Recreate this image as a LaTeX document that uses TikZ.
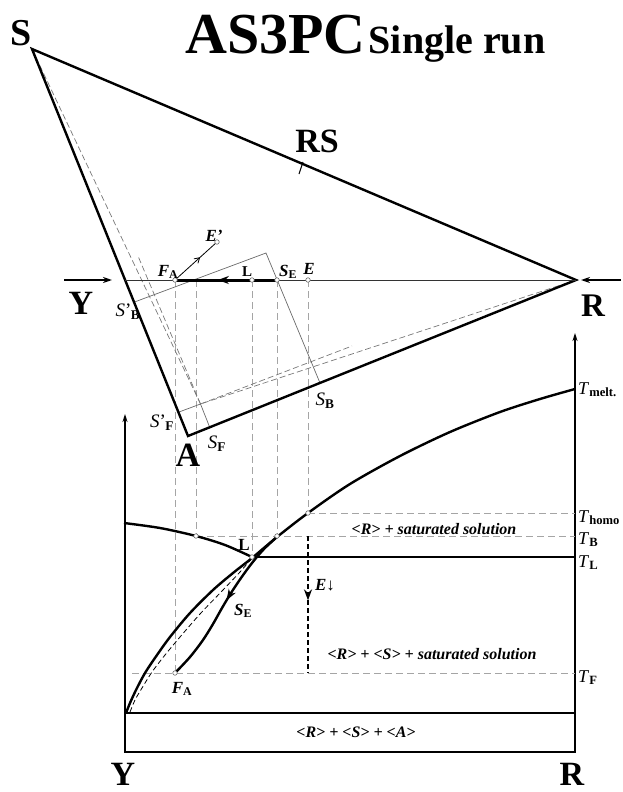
\documentclass[tikz,border=0pt]{standalone}
\usepackage{fontspec}
\setmainfont{Liberation Serif}
\usetikzlibrary{arrows.meta,decorations.markings}
\definecolor{guidegray}{RGB}{165,165,165}
\definecolor{framegray}{RGB}{105,105,105}
\definecolor{tiegray}{RGB}{120,120,120}

\newcommand{\phlab}[2]{\textit{#1}\textsubscript{\textbf{#2}}}
\newcommand{\phlabp}[2]{\textit{#1}’\kern-0.5pt\textsubscript{\textbf{#2}}}
\newcommand{\fsz}[1]{\fontsize{#1}{#1}\selectfont}

\tikzset{
  heavy/.style={line width=2.4pt},
  axisarrow/.style={line width=1.6pt,-{Stealth[length=8pt,width=5pt]}},
  guide/.style={guidegray,line width=0.9pt,dash pattern=on 7pt off 4pt},
  tieline/.style={tiegray,line width=0.7pt,dash pattern=on 6pt off 3pt},
  frameline/.style={framegray,line width=0.7pt},
  spot/.style={circle,draw=framegray,fill=white,line width=0.6pt,inner sep=0pt,minimum size=4.5pt},
  midarrow/.style={postaction={decorate},decoration={markings,
    mark=at position #1 with {\arrow{Stealth[length=11pt,width=8pt]}}}},
  vtx/.style={font=\fsz{34}\bfseries,inner sep=0pt},
  tlab/.style={font=\fsz{18},anchor=base west,inner sep=0pt},
  slab/.style={font=\fsz{19},inner sep=0pt},
  plab/.style={font=\fsz{17}\bfseries,inner sep=0pt},
  region/.style={font=\fsz{16}\bfseries\itshape,inner sep=0pt}
}

\begin{document}
\begin{tikzpicture}[x=1pt,y=-1pt]
\useasboundingbox (0,0) rectangle (623,792);

% triangle S-R-A
\coordinate (S) at (32,49);
\coordinate (R) at (576,280);
\coordinate (A) at (188,436);
\coordinate (Yl) at (125,280);
\coordinate (FA) at (175,280);
\coordinate (G) at (196,280);
\coordinate (L) at (252,280);
\coordinate (SE) at (277,280);
\coordinate (E) at (308,280);
\coordinate (Ep) at (217,242);
\coordinate (Q) at (266,253);
\coordinate (SBp) at (134.5,302);
\coordinate (SB) at (320,383);
\coordinate (SFp) at (179,412);
\coordinate (SF) at (210,428);
\coordinate (P) at (200.5,404);

% vertical guides down to the T-x section
\coordinate (fa) at (175,673);
\coordinate (g) at (196,536);
\coordinate (l) at (252,557);
\coordinate (se) at (277,536);
\coordinate (e) at (308,513);
\foreach \a/\b in {FA/fa,G/g,L/l,SE/se,E/e}
  \draw[guide] (\a) -- (\b);

\draw[tieline] (S) -- (P);
\draw[tieline] (R) -- (P);
\draw[tieline] (P) -- (138,256);
\draw[tieline] (P) -- (352,346);
\draw[frameline] (SBp) -- (Q) -- (SB);
\draw[frameline] (SFp) -- (P) -- (SF);

\draw[heavy,line join=miter] (S) -- (R) -- (A) -- cycle;
\draw[line width=1pt] (299,174) -- (303,162);
\draw[black!80,line width=0.9pt] (Yl) -- (R);
\draw[line width=2pt,-{Stealth[length=9pt,width=6pt]}] (64,280) -- (112,280);
\draw[line width=2pt,-{Stealth[length=9pt,width=6pt]}] (621,280) -- (581,280);
\draw[line width=3pt,midarrow=0.58] (SE) -- (FA);
\draw[line width=0.8pt,postaction={decorate},decoration={markings,
  mark=at position 0.6 with {\arrow{Straight Barb[length=5pt,width=6pt]}}}] (FA) -- (Ep);

\foreach \p in {FA,L,SE,E,Ep}
  \node[spot] (dot\p) at (\p) {};

\node[anchor=base west,inner sep=0pt] (title) at (185,53)
  {\fsz{58}\bfseries AS3PC\hspace{3pt}\fsz{40}Single run};
\node[vtx,font=\fsz{38}\bfseries] (labS) at (21,33) {S};
\node[vtx] (labRS) at (317,141) {RS};
\node[vtx,font=\fsz{33}\bfseries] (labR) at (593,306) {R};
\node[vtx,font=\fsz{34}\bfseries] (labY) at (81,303) {Y};
\node[vtx] (labA) at (188,455) {A};
\node[plab] (labFA) at (168,272) {\phlab{F}{A}};
\node[plab] (labEp) at (214,236) {\textit{E’}};
\node[plab,font=\fsz{15}\bfseries] (labL) at (247,272) {L};
\node[plab] (labSE) at (288,272) {\phlab{S}{E}};
\node[plab] (labE) at (309,269) {\textit{E}};
\node[slab] (labSBp) at (128,312) {\phlabp{S}{B}};
\node[slab] (labSFp) at (162,423) {\phlabp{S}{F}};
\node[slab] (labSF) at (217,444) {\phlab{S}{F}};
\node[slab] (labSB) at (325,401) {\phlab{S}{B}};

% T-x section
\draw[axisarrow] (125,752) -- (125,414);
\draw[axisarrow] (575,752) -- (575,333);
\draw[line width=1.8pt] (125,713) rectangle (575,752);
\draw[heavy] (125,713) -- (575,713);

\draw[guide] (e) -- (575,513);
\draw[guide] (g) -- (575,536);
\draw[guide] (132,673) -- (575,673);
\draw[heavy] (l) -- (575,557);

\draw[heavy] plot[smooth] coordinates {(124,523) (160,528) (196,536) (225,545) (252,557)};
\draw[heavy] plot[smooth] coordinates {(126,713) (130,703) (136,690) (145,673) (157,655)
  (170,637) (190,613) (213,590) (233,573) (252,558) (277,537) (308,513) (350,484)
  (400,456) (450,432) (500,412) (540,399) (575,389)};
\draw[line width=0.8pt,dash pattern=on 5pt off 3pt] plot[smooth] coordinates {(130,712)
  (135,700) (142,688) (152,672) (165,655) (180,637) (200,614) (222,591) (240,572) (252,558)};
\draw[heavy,midarrow=0.48] plot[smooth] coordinates {(278,536) (264,549) (252,563)
  (241,578) (231,593) (222,608) (213,624) (203,640) (190,657) (175,673)};
\draw[line width=2.4pt,dash pattern=on 5pt off 3pt,midarrow=0.47] (308,536) -- (308,673);

\foreach \p in {fa,g,l,se,e}
  \node[spot] (dot\p) at (\p) {};

\node[tlab] (labTm) at (578,394) {\phlab{T}{melt.}};
\node[tlab] (labTh) at (578,522) {\phlab{T}{homo}};
\node[tlab] (labTB) at (578,544) {\phlab{T}{B}};
\node[tlab] (labTL) at (578,567) {\phlab{T}{L}};
\node[tlab] (labTF) at (578,682) {\phlab{T}{F}};
\node[plab,font=\fsz{17}\bfseries] (labL2) at (244,545) {L};
\node[plab] (labSE2) at (243,611) {\phlab{S}{E}};
\node[plab] (labFA2) at (182,689) {\phlab{F}{A}};
\node[plab] (labE2) at (325,585) {\textit{E}\textmd{↓}};
\node[region] (regB) at (434,529) {<R> + saturated solution};
\node[region] (regF) at (432,654) {<R> + <S> + saturated solution};
\node[region,font=\fsz{16}\bfseries\itshape] (regS) at (356,732) {<R> + <S> + <A>};
\node[vtx,font=\fsz{34}\bfseries] (labY2) at (123,774) {Y};
\node[vtx,font=\fsz{34}\bfseries] (labR2) at (572,774) {R};
\end{tikzpicture}
\end{document}
